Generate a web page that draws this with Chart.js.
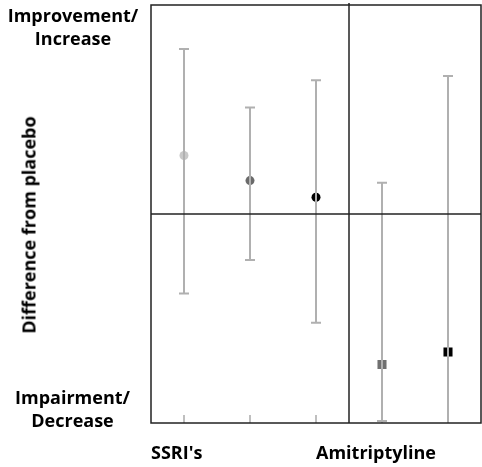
<!DOCTYPE html>
<html>
<head>
<meta charset="utf-8">
<script src="https://cdn.jsdelivr.net/npm/chart.js@4.4.0/dist/chart.umd.min.js"></script>
<style>
  html, body { margin: 0; padding: 0; background: #fff; overflow: hidden; }
  #wrap { position: relative; width: 482px; height: 467px; }
  canvas { position: absolute; left: 0; top: 0; }
  .lbl { position: absolute; font-family: 'Open Sans', Lato, sans-serif; font-weight: 700; font-size: 18px; color: #000; white-space: nowrap; line-height: 23px; }
</style>
</head>
<body>
<div id="wrap">
  <canvas id="chart" width="482" height="467"></canvas>
  <div class="lbl" style="left:0; top:4px; width:146px; text-align:center;">Improvement/<br>Increase</div>
  <div class="lbl" style="left:0; top:386px; width:145px; text-align:center;">Impairment/<br>Decrease</div>
  <div class="lbl" style="left:29px; top:225px; transform: translate(-50%, -50%) rotate(-90deg);">Difference from placebo</div>
  <div class="lbl" style="left:151px; top:441px;">SSRI's</div>
  <div class="lbl" style="left:316px; top:441px;">Amitriptyline</div>
</div>
<script>
// values, scale -1 (decrease) .. 1 (increase)
const categories = ['SSRI A', 'SSRI B', 'SSRI C', 'Amitriptyline A', 'Amitriptyline B'];
const means = [0.28, 0.16, 0.08, -0.72, -0.66];
const upper = [0.79, 0.51, 0.64, 0.15, 0.66];
const lower = [-0.38, -0.22, -0.52, -0.99, -1.0];
const pointColors = ['#c8c8c8', '#6a6a6a', '#000000', '#707070', '#000000'];
const pointShapes = ['circle', 'circle', 'circle', 'rect', 'rect'];

// frame, zero line, group divider, small bottom ticks
const framePlugin = {
    id: 'frame',
    beforeDatasetsDraw(chart) {
        const { ctx, chartArea: a, scales: { x } } = chart;
        ctx.save();
        ctx.strokeStyle = '#aaaaaa';
        ctx.lineWidth = 1.5;
        categories.forEach((c, i) => {
            const px = x.getPixelForValue(i);
            ctx.beginPath();
            ctx.moveTo(px, a.bottom);
            ctx.lineTo(px, a.bottom - 8);
            ctx.stroke();
        });
        ctx.restore();
    },
    afterDraw(chart) {
        const { ctx, chartArea: a, scales: { x, y } } = chart;
        ctx.save();
        ctx.strokeStyle = '#222';
        ctx.lineWidth = 1.5;
        ctx.strokeRect(a.left, a.top, a.right - a.left, a.bottom - a.top);
        // zero line
        const zy = y.getPixelForValue(0);
        ctx.beginPath();
        ctx.moveTo(a.left, zy);
        ctx.lineTo(a.right, zy);
        ctx.stroke();
        // divider between the groups
        const dx = (x.getPixelForValue(2) + x.getPixelForValue(3)) / 2;
        ctx.beginPath();
        ctx.moveTo(dx, a.top - 2);
        ctx.lineTo(dx, a.bottom);
        ctx.stroke();
        ctx.restore();
    }
};

// gray error bars, drawn over the markers like the original
const errorBarPlugin = {
    id: 'errorBars',
    afterDatasetsDraw(chart) {
        const { ctx, scales: { x, y } } = chart;
        ctx.save();
        ctx.strokeStyle = '#b0b0b0';
        ctx.lineWidth = 2;
        means.forEach((m, i) => {
            const px = x.getPixelForValue(i);
            const top = y.getPixelForValue(upper[i]);
            const bot = y.getPixelForValue(lower[i]);
            ctx.beginPath();
            ctx.moveTo(px, top);
            ctx.lineTo(px, bot);
            ctx.moveTo(px - 5, top);
            ctx.lineTo(px + 5, top);
            if (lower[i] > -1) {
                ctx.moveTo(px - 5, bot);
                ctx.lineTo(px + 5, bot);
            }
            ctx.stroke();
        });
        ctx.restore();
    }
};

const chart = new Chart(document.getElementById('chart'), {
    type: 'scatter',
    data: {
        labels: categories,
        datasets: [{
            data: means.map((m, i) => ({ x: i, y: m })),
            pointStyle: pointShapes,
            pointRadius: [4.5, 4.5, 4.5, 6.4, 6.4],
            pointBackgroundColor: pointColors,
            pointBorderColor: pointColors,
            pointBorderWidth: 0
        }]
    },
    options: {
        responsive: false,
        animation: false,
        layout: { autoPadding: false, padding: { left: 151, top: 5, right: 1, bottom: 44 } },
        plugins: { legend: { display: false }, tooltip: { enabled: false } },
        scales: {
            x: { type: 'category', labels: categories, offset: true, display: false },
            y: { min: -1, max: 1, display: false }
        }
    },
    plugins: [framePlugin, errorBarPlugin]
});
</script>
</body>
</html>
